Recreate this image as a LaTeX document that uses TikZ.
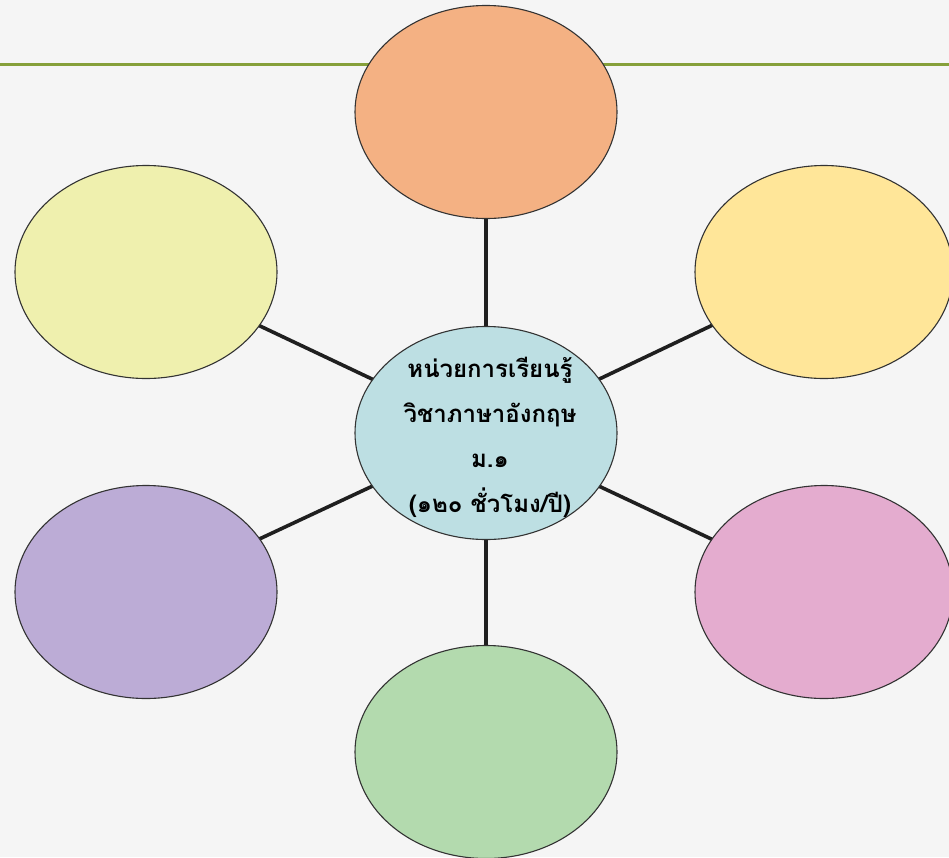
\documentclass[tikz,border=0pt]{standalone}
\usepackage{fontspec}
\newfontfamily\thaifont[Script=Thai]{Loma}
\usetikzlibrary{shapes.geometric,backgrounds}
\definecolor{bg}{HTML}{F5F5F5}
\definecolor{rule}{HTML}{86A03A}
\definecolor{cTop}{HTML}{F4B183}
\definecolor{cUL}{HTML}{EFF0AE}
\definecolor{cUR}{HTML}{FFE699}
\definecolor{cLL}{HTML}{BCACD6}
\definecolor{cLR}{HTML}{E4ACCF}
\definecolor{cBot}{HTML}{B3DAAE}
\definecolor{cMid}{HTML}{BDDFE3}
\definecolor{edge}{HTML}{333333}
\tikzset{
  bubble/.style={ellipse, draw=edge, line width=1.1pt, minimum width=262pt, minimum height=213pt, inner sep=0pt},
  spoke/.style={draw=black!88, line width=3.6pt},
  title/.style={align=center, inner sep=0pt, font=\thaifont\bfseries\fontsize{24}{45}\selectfont}
}
\begin{document}
\begin{tikzpicture}[x=1pt,y=-1pt]
\useasboundingbox (0,0) rectangle (949,857);
\node[bubble, fill=cTop] (t) at (486,112) {};
\node[bubble, fill=cUL] (ul) at (146,272) {};
\node[bubble, fill=cUR, minimum width=258pt] (ur) at (824,272) {};
\node[bubble, fill=cLL] (ll) at (146,592) {};
\node[bubble, fill=cLR, minimum width=258pt] (lr) at (824,592) {};
\node[bubble, fill=cBot] (b) at (486,752) {};
\node[bubble, fill=cMid] (c) at (486,433) {};
\node[title] (ct) at ([xshift=4pt,yshift=-4pt]c.center) {หน่วยการเรียนรู้\\วิชาภาษาอังกฤษ\\ม.๑\\ (๑๒๐ ชั่วโมง/ปี)};
\begin{scope}[on background layer]
\fill[bg] (0,0) rectangle (949,857);
\draw[rule, line width=3pt] (0,64) -- (949,64);
\foreach \n in {t,ul,ur,ll,lr,b} \path[spoke] (c.center) -- (\n.center);
\end{scope}
\end{tikzpicture}
\end{document}
